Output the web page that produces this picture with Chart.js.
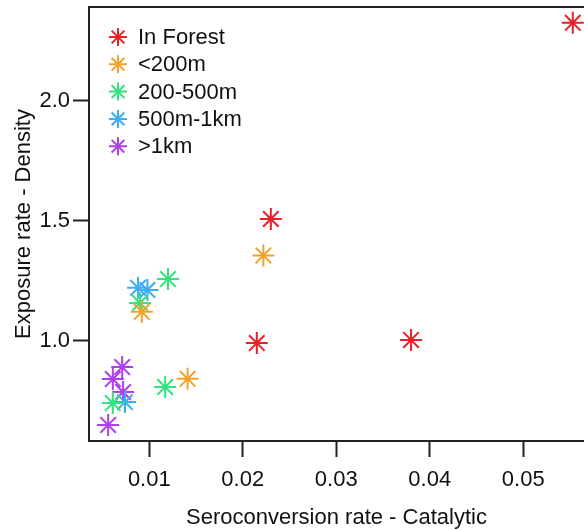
<!DOCTYPE html>
<html>
<head>
<meta charset="utf-8">
<script src="https://cdn.jsdelivr.net/npm/chart.js@4/dist/chart.umd.min.js"></script>
<style>
  html, body { margin: 0; padding: 0; background: #fff; overflow: hidden; }
</style>
</head>
<body>
<canvas id="c" width="584" height="530"></canvas>
<script>
// data
const groups = ["In Forest", "<200m", "200-500m", "500m-1km", ">1km"];
const colors = ["#e8202a", "#f2a22c", "#34e27e", "#3aaef0", "#b23cf0"];

const forestX = [0.0553, 0.0230, 0.0215, 0.0380];
const forestY = [2.324, 1.507, 0.990, 1.003];
const near200X = [0.0222, 0.0092, 0.0141];
const near200Y = [1.355, 1.120, 0.841];
const mid500X = [0.0120, 0.0090, 0.0117, 0.0061];
const mid500Y = [1.257, 1.157, 0.807, 0.740];
const far1kX = [0.0088, 0.0098, 0.0074];
const far1kY = [1.220, 1.211, 0.744];
const beyondX = [0.0071, 0.0061, 0.0072, 0.0056];
const beyondY = [0.890, 0.840, 0.786, 0.649];

const xTicks = [0.01, 0.02, 0.03, 0.04, 0.05];
const yTicks = [1.0, 1.5, 2.0];

const seriesX = [forestX, near200X, mid500X, far1kX, beyondX];
const seriesY = [forestY, near200Y, mid500Y, far1kY, beyondY];

const font = "'Liberation Sans', Arial, sans-serif";

const datasets = groups.map((g, i) => ({
  label: g,
  data: seriesX[i].map((x, k) => ({ x: x, y: seriesY[i][k] })),
  borderColor: colors[i],
  backgroundColor: colors[i],
  pointStyle: "star",
  pointRadius: 11,
  pointBorderWidth: 2,
  showLine: false,
  clip: false,
}));

// no extra padding around the plot box
function noPad(s) {
  s.paddingTop = 0;
  s.paddingBottom = 0;
  s.paddingLeft = 0;
  s.paddingRight = 0;
}

// legend in the top-left corner + top frame line
const boxPlugin = {
  id: "boxLegend",
  afterDraw(chart) {
    const ctx = chart.ctx;
    const a = chart.chartArea;
    ctx.save();
    ctx.strokeStyle = "#222";
    ctx.lineWidth = 2;
    ctx.beginPath();
    ctx.moveTo(a.left, a.top);
    ctx.lineTo(a.right, a.top);
    ctx.stroke();

    ctx.font = "22px " + font;
    ctx.textBaseline = "middle";
    ctx.textAlign = "left";
    groups.forEach((g, i) => {
      const y = 37 + i * 27.3;
      ctx.strokeStyle = colors[i];
      ctx.lineWidth = 2;
      Chart.helpers.drawPoint(ctx, { pointStyle: "star", radius: 9, borderWidth: 2 }, 118, y);
      ctx.fillStyle = "#111";
      ctx.fillText(g, 138, y + 1);
    });
    ctx.restore();
  }
};

new Chart(document.getElementById("c"), {
  type: "scatter",
  data: { datasets },
  plugins: [boxPlugin],
  options: {
    responsive: false,
    animation: false,
    layout: { autoPadding: false, padding: { top: 7, right: 0, left: 0, bottom: 0 } },
    plugins: { legend: { display: false }, tooltip: { enabled: false } },
    scales: {
      x: {
        type: "linear",
        min: 0.00355,
        max: 0.0565,
        afterBuildTicks: (s) => { s.ticks = xTicks.map(v => ({ value: v })); },
        afterFit: (s) => { s.height = 89; noPad(s); },
        grid: { drawOnChartArea: false, drawTicks: true, tickLength: 16, tickWidth: 2, tickColor: "#222" },
        border: { display: true, color: "#222", width: 2 },
        ticks: {
          color: "#111", padding: 10,
          font: { family: font, size: 22 },
          callback: (v) => v.toFixed(2),
          maxRotation: 0
        },
        title: {
          display: true, text: "Seroconversion rate - Catalytic",
          color: "#111", font: { family: font, size: 22, lineHeight: 1 },
          padding: { top: 0, bottom: 1 }
        }
      },
      y: {
        type: "linear",
        min: 0.582,
        max: 2.390,
        afterBuildTicks: (s) => { s.ticks = yTicks.map(v => ({ value: v })); },
        afterFit: (s) => { s.width = 89; noPad(s); },
        grid: { drawOnChartArea: false, drawTicks: true, tickLength: 16, tickWidth: 2, tickColor: "#222" },
        border: { display: true, color: "#222", width: 2 },
        ticks: {
          color: "#111", padding: 3,
          font: { family: font, size: 22 },
          callback: (v) => v.toFixed(1)
        },
        title: {
          display: true, text: "Exposure rate - Density",
          color: "#111", font: { family: font, size: 22 },
          padding: { top: 11, bottom: 0 }
        }
      }
    }
  }
});
</script>
</body>
</html>
